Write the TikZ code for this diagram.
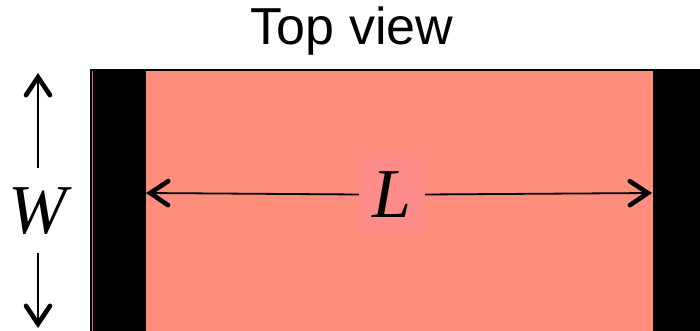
\documentclass[tikz,border=0pt]{standalone}
\usepackage{fontspec}
\setmainfont{Liberation Serif}
\newfontfamily\arialf{Liberation Sans}
\usetikzlibrary{arrows.meta}
\definecolor{salmon}{HTML}{FF8F7C}
\definecolor{labelbg}{HTML}{FF8C88}
\tikzset{
  dimarrow/.style={line width=1.8pt, -{Straight Barb[length=18pt,width=24pt,line width=4.6pt,line cap=round]}},
  band/.style={fill=black, draw=none}
}
\begin{document}
\begin{tikzpicture}[x=1pt,y=-1pt]
\useasboundingbox (0,0) rectangle (700,331);
% body
\fill[black] (90,69) rectangle (700,331);
\fill[salmon] (146,71) rectangle (653,331);
\draw[salmon!80!black, line width=0.8pt] (92.5,71) -- (92.5,331);
% title
\node (title) at (352,31) {\arialf\fontsize{52}{58}\selectfont Top view};
% L dimension
\coordinate (la) at (146,193);
\coordinate (lb) at (652,193);
\node[fill=labelbg, minimum width=66pt, minimum height=77pt, inner sep=0pt] (L) at (392,194.5) {\fontsize{70}{72}\selectfont\itshape L};
\draw[dimarrow] (L.west) -- (la);
\draw[dimarrow] (L.east) -- (lb);
% W dimension
\node[inner sep=0pt] (W) at (38,211) {\fontsize{70}{72}\selectfont\itshape W};
\coordinate (wt) at (38,73);
\coordinate (wb) at (38,328);
\draw[dimarrow] (38,168) -- (wt);
\draw[dimarrow] (38,253) -- (wb);
\end{tikzpicture}
\end{document}
